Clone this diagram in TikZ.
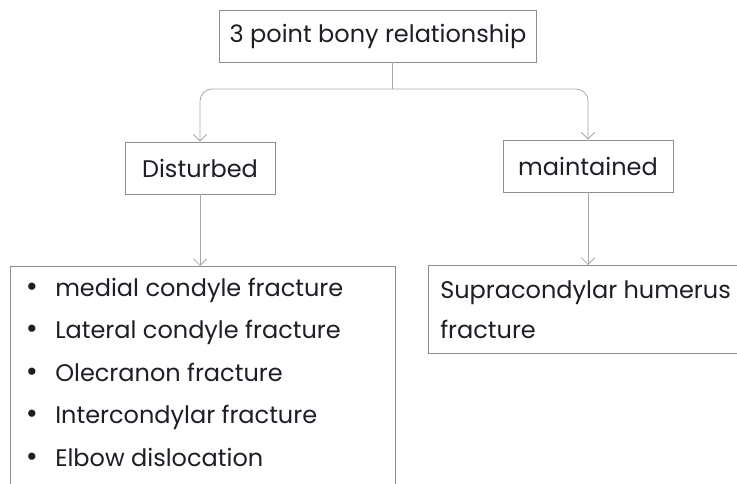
\documentclass[tikz,border=0pt]{standalone}
\usepackage{fontspec}
\setmainfont{Poppins}
\usetikzlibrary{arrows.meta,positioning}
\definecolor{linegray}{HTML}{A8A8A8}
\definecolor{boxgray}{HTML}{8E8E8E}
\definecolor{inkdark}{HTML}{1E1E26}
\tikzset{
  box/.style = {rectangle, draw=boxgray, line width=0.6pt, inner sep=0pt,
    text=inkdark, font=\fontsize{18}{21}\selectfont},
  headbox/.style = {box, minimum width=238pt, minimum height=39pt},% top question
  casebox/.style = {box, minimum height=39pt},% disturbed / maintained
  itemtext/.style = {anchor=base west, inner sep=0pt, text=inkdark,
    font=\fontsize{18}{21}\selectfont},
  dot/.style = {itemtext, anchor=base, font=\fontsize{22}{22}\selectfont},% list bullet
  link/.style = {draw=linegray, line width=0.6pt},
  arr/.style = {link, -{Straight Barb[length=5pt,width=10pt]}, rounded corners=9pt}
}
\begin{document}
\begin{tikzpicture}[x=0.75pt,y=-0.75pt]
\useasboundingbox (0,0) rectangle (737,484);
\clip (0,0) rectangle (737,484);
\fill[white] (0,0) rectangle (737,484);

\node [headbox] (root) at (378,36) {3 point bony relationship};
\node [casebox, minimum width=112.5pt] (dist) at (200,168) {Disturbed};
\node [casebox, minimum width=127.5pt] (maint) at (588,166) {maintained};

% result boxes, both run past the page edge
\node [box, anchor=north west, minimum width=289pt, minimum height=180pt] (dlist) at (10,266) {};
\node [box, anchor=north west, minimum width=250pt, minimum height=66pt] (mlist) at (428,265) {};

\foreach \txt [count=\i] in {medial condyle fracture, Lateral condyle fracture,
    Olecranon fracture, Intercondylar fracture, Elbow dislocation}{
  \node [dot] (bullet\i) at (32,253.5+42.5*\i) {\textbullet};
  \node [itemtext] (item\i) at (55,253.5+42.5*\i) {\txt};
}
\node [itemtext] (supra1) at (440,298) {Supracondylar humerus};
\node [itemtext] (supra2) at (440,338) {fracture};

% connectors
\coordinate (fork) at (392,89);
\draw [link] (root.south -| fork) -- (fork);
\draw [arr] (fork) -| (dist.north);
\draw [arr] (fork) -| (maint.north);
\draw [arr] (dist.south) -- (dist.south |- dlist.north);
\draw [arr] (maint.south) -- (maint.south |- mlist.north);
\end{tikzpicture}
\end{document}
